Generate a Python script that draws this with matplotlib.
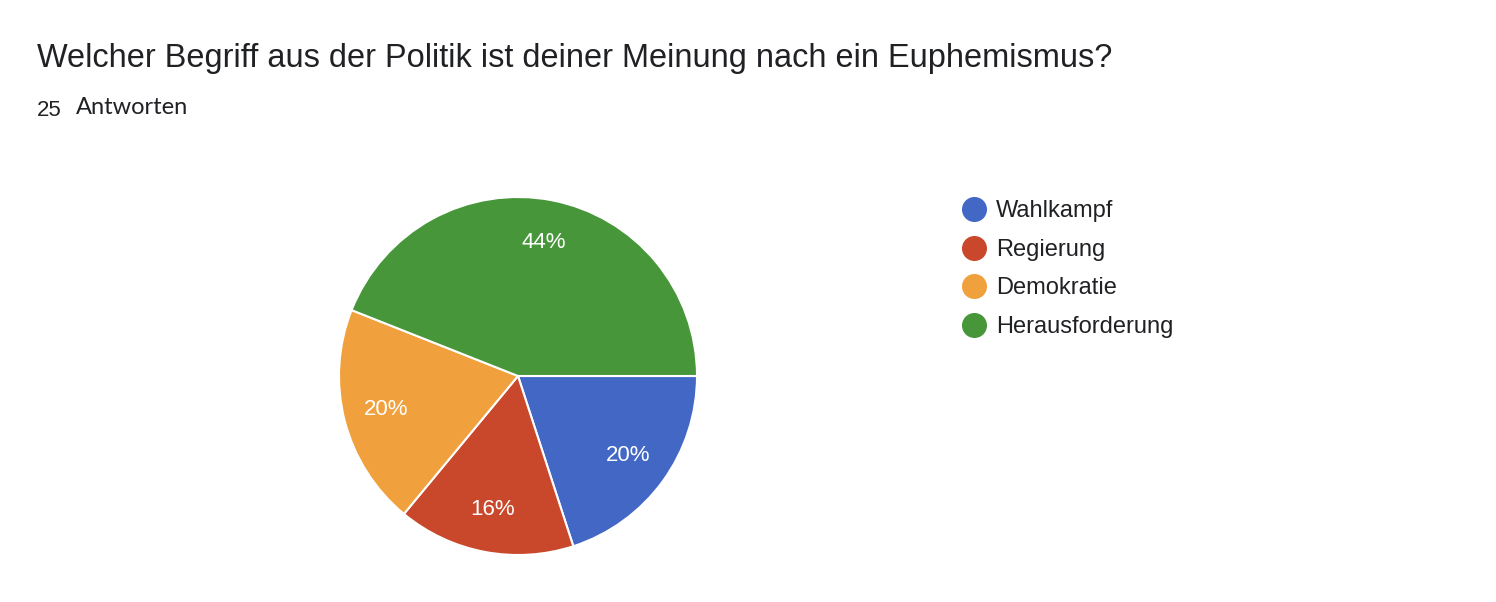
import matplotlib
matplotlib.use("Agg")
import matplotlib.pyplot as plt
from matplotlib.lines import Line2D

title = "Welcher Begriff aus der Politik ist deiner Meinung nach ein Euphemismus?"
subtitle_count = "25"
subtitle_word = "Antworten"
categories = ["Wahlkampf", "Regierung", "Demokratie", "Herausforderung"]
values = [20, 16, 20, 44]
colors = ["#4267c5", "#c9472a", "#f0a03c", "#47963a"]

plt.rcParams['font.family'] = ['Liberation Sans', 'DejaVu Sans']

W, H = 1496, 602
fig = plt.figure(figsize=(W / 100, H / 100), dpi=100)
fig.patch.set_facecolor("white")

cx, cy, r = 518, 376, 179
ax = fig.add_axes([(cx - r) / W, (H - cy - r) / H, 2 * r / W, 2 * r / H])
wedges, texts, autotexts = ax.pie(
    values, colors=colors, startangle=0, counterclock=False,
    autopct=lambda p: f"{p:.0f}%", pctdistance=0.76,
    wedgeprops=dict(edgecolor="white", linewidth=1.5),
    textprops=dict(color="white", fontsize=16),
    radius=1.0,
)
ax.set_xlim(-1, 1)
ax.set_ylim(-1, 1)
ax.set_aspect("equal")
ax.axis("off")

fig.text(37 / W, 1 - 59 / H, title, fontsize=23.45, color="#202124", va="center", ha="left")
fig.text(37 / W, 1 - 111 / H, subtitle_count, fontsize=16, color="#202124", va="center", ha="left")
fig.text(76 / W, 1 - 107 / H, subtitle_word, fontsize=17, color="#202124", va="center", ha="left",
         family=['Lato', 'DejaVu Sans'])

handles = [Line2D([0], [0], marker='o', linestyle='none', markersize=17,
                  markerfacecolor=c, markeredgecolor=c) for c in colors]
leg = fig.legend(handles, categories, loc="upper left",
                 bbox_to_anchor=(952 / W, 1 - 191 / H), frameon=False,
                 fontsize=17, handletextpad=0.35, labelspacing=0.7,
                 handlelength=1.1, borderaxespad=0)
for t in leg.get_texts():
    t.set_color("#202124")

fig.savefig("out.png", dpi=100, facecolor="white")
